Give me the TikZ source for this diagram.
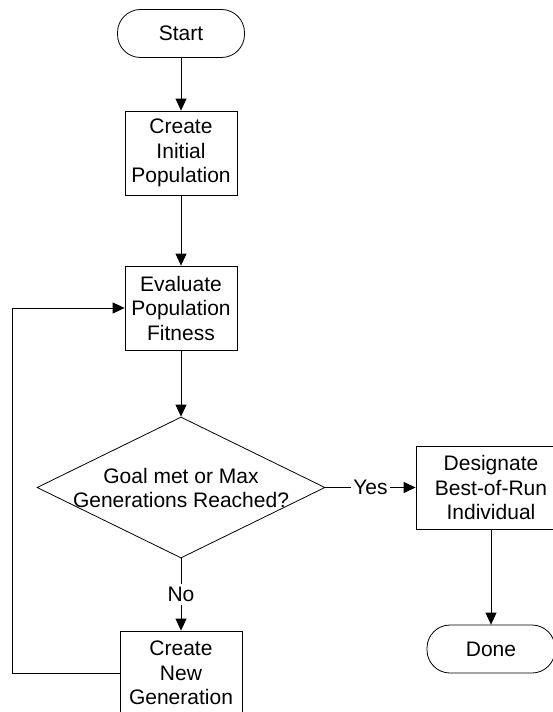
\documentclass[tikz,border=0pt]{standalone}
\usepackage{fontspec}
\setmainfont{Liberation Sans}
\usetikzlibrary{arrows.meta,shapes.geometric}
\begin{document}
\begin{tikzpicture}[x=1pt,y=-1pt,
  every node/.style={font=\fontsize{21}{24.5}\selectfont, align=center, inner sep=0pt},
  term/.style={draw, line width=0.8pt, rounded corners=23pt, minimum height=48pt},
  procbox/.style={draw, line width=0.8pt, minimum height=84pt},
  decide/.style={draw, line width=0.8pt, diamond, minimum width=288pt, minimum height=141pt},
  arr/.style={draw, line width=0.8pt, -{Triangle[length=12pt,width=11pt]}},
  lbl/.style={fill=white, inner xsep=2pt, inner ysep=3pt}]
\useasboundingbox (0,0) rectangle (552,712);
\node[term, minimum width=127pt] (start) at (181,33.5) {Start};
\node[procbox, minimum width=112pt] (init) at (181,153) {Create\\Initial\\Population};
\node[procbox, minimum width=112pt] (eval) at (181,308) {Evaluate\\Population\\Fitness};
\node[decide] (dec) at (181,487.5) {};
\node at (181,488) {Goal met or Max\\Generations Reached?};
\node[procbox, minimum width=150pt, minimum height=83pt] (best) at (491,487.5) {Designate\\Best-of-Run\\Individual};
\node[term, minimum width=128pt] (done) at (491,649) {Done};
\node[procbox, minimum width=122pt] (newgen) at (181,673) {Create\\New\\Generation};
\draw[arr] (start) -- (init);
\draw[arr] (init) -- (eval);
\draw[arr] (eval) -- (dec.north);
\draw[arr] (dec.east) -- node[lbl] {Yes} (best.west);
\draw[arr] (best) -- (done);
\draw[arr] (dec.south) -- node[lbl] {No} (newgen.north);
\draw[arr] (newgen.west) -- ++(-107,0) |- (eval.west);
\end{tikzpicture}
\end{document}
